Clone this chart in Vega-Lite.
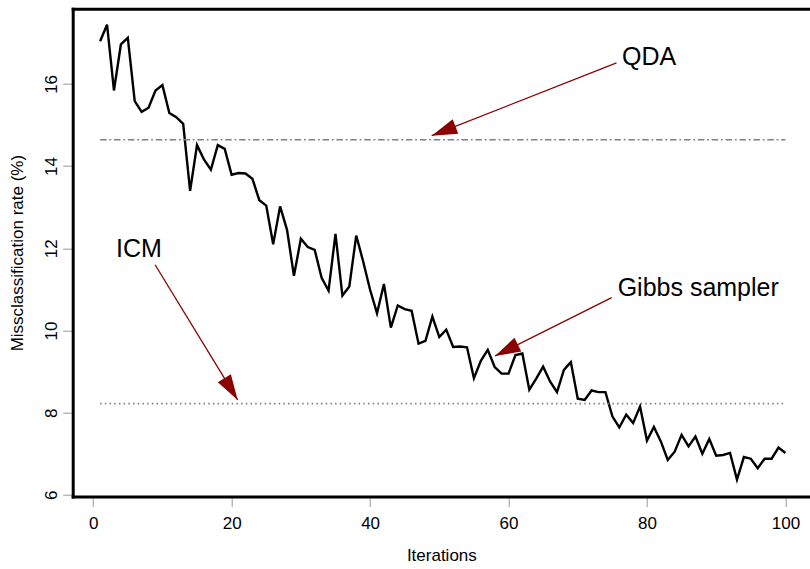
{
  "$schema": "https://vega.github.io/schema/vega-lite/v6.json",
  "width": 737.3,
  "height": 487.8,
  "autosize": {"type": "none"},
  "padding": {"left": 72.7, "top": 8.7, "right": 0, "bottom": 72.5},
  "background": "white",
  "config": {
    "view": {"stroke": null},
    "font": "Liberation Sans",
    "axis": {
      "grid": false,
      "domainColor": "black",
      "domainWidth": 3,
      "domainCap": "square",
      "tickColor": "#999999",
      "tickSize": 10,
      "tickWidth": 1,
      "labelFont": "Liberation Sans",
      "labelFontSize": 17,
      "labelColor": "black",
      "titleFont": "Liberation Sans",
      "titleFontSize": 17,
      "titleFontWeight": "normal",
      "titleColor": "black"
    }
  },
  "datasets": {
    "series": [
      {"x": 1, "y": 17.04}, {"x": 2, "y": 17.44}, {"x": 3, "y": 15.84}, {"x": 4, "y": 16.96}, {"x": 5, "y": 17.12},
      {"x": 6, "y": 15.58}, {"x": 7, "y": 15.32}, {"x": 8, "y": 15.42}, {"x": 9, "y": 15.84}, {"x": 10, "y": 15.97},
      {"x": 11, "y": 15.29}, {"x": 12, "y": 15.19}, {"x": 13, "y": 15.03}, {"x": 14, "y": 13.4}, {"x": 15, "y": 14.51},
      {"x": 16, "y": 14.16}, {"x": 17, "y": 13.91}, {"x": 18, "y": 14.51}, {"x": 19, "y": 14.42}, {"x": 20, "y": 13.79},
      {"x": 21, "y": 13.83}, {"x": 22, "y": 13.82}, {"x": 23, "y": 13.69}, {"x": 24, "y": 13.17}, {"x": 25, "y": 13.04},
      {"x": 26, "y": 12.1}, {"x": 27, "y": 13.02}, {"x": 28, "y": 12.45}, {"x": 29, "y": 11.33}, {"x": 30, "y": 12.23},
      {"x": 31, "y": 12.03}, {"x": 32, "y": 11.96}, {"x": 33, "y": 11.28}, {"x": 34, "y": 10.97}, {"x": 35, "y": 12.35},
      {"x": 36, "y": 10.85}, {"x": 37, "y": 11.07}, {"x": 38, "y": 12.31}, {"x": 39, "y": 11.68}, {"x": 40, "y": 10.99},
      {"x": 41, "y": 10.42}, {"x": 42, "y": 11.13}, {"x": 43, "y": 10.07}, {"x": 44, "y": 10.61}, {"x": 45, "y": 10.52},
      {"x": 46, "y": 10.48}, {"x": 47, "y": 9.68}, {"x": 48, "y": 9.75}, {"x": 49, "y": 10.34}, {"x": 50, "y": 9.84},
      {"x": 51, "y": 10.02}, {"x": 52, "y": 9.6}, {"x": 53, "y": 9.61}, {"x": 54, "y": 9.59}, {"x": 55, "y": 8.84},
      {"x": 56, "y": 9.26}, {"x": 57, "y": 9.53}, {"x": 58, "y": 9.11}, {"x": 59, "y": 8.95}, {"x": 60, "y": 8.95},
      {"x": 61, "y": 9.4}, {"x": 62, "y": 9.44}, {"x": 63, "y": 8.56}, {"x": 64, "y": 8.83}, {"x": 65, "y": 9.12},
      {"x": 66, "y": 8.76}, {"x": 67, "y": 8.5}, {"x": 68, "y": 9.04}, {"x": 69, "y": 9.23}, {"x": 70, "y": 8.34},
      {"x": 71, "y": 8.31}, {"x": 72, "y": 8.54}, {"x": 73, "y": 8.5}, {"x": 74, "y": 8.5}, {"x": 75, "y": 7.91},
      {"x": 76, "y": 7.64}, {"x": 77, "y": 7.95}, {"x": 78, "y": 7.75}, {"x": 79, "y": 8.15}, {"x": 80, "y": 7.32},
      {"x": 81, "y": 7.65}, {"x": 82, "y": 7.3}, {"x": 83, "y": 6.85}, {"x": 84, "y": 7.05}, {"x": 85, "y": 7.46},
      {"x": 86, "y": 7.18}, {"x": 87, "y": 7.42}, {"x": 88, "y": 7.0}, {"x": 89, "y": 7.36}, {"x": 90, "y": 6.95},
      {"x": 91, "y": 6.97}, {"x": 92, "y": 7.02}, {"x": 93, "y": 6.37}, {"x": 94, "y": 6.92}, {"x": 95, "y": 6.88},
      {"x": 96, "y": 6.65}, {"x": 97, "y": 6.88}, {"x": 98, "y": 6.88}, {"x": 99, "y": 7.15}, {"x": 100, "y": 7.02}
    ],
    "refs": [
      {"method": "QDA", "x": 1, "x2": 100, "y": 14.64},
      {"method": "ICM", "x": 1, "x2": 100, "y": 8.22}
    ],
    "notes": [
      {"label": "QDA", "x": 80.3, "y": 16.47, "ax": 75.6, "ay": 16.51, "hx": 48.9, "hy": 14.74},
      {"label": "Gibbs sampler", "x": 87.4, "y": 10.83, "ax": 74.9, "ay": 10.8, "hx": 58.05, "hy": 9.38},
      {"label": "ICM", "x": 6.62, "y": 11.8, "ax": 8.94, "ay": 11.6, "hx": 20.87, "hy": 8.31}
    ]
  },
  "layer": [
    {
      "data": {"name": "series"},
      "mark": {"type": "line", "color": "black", "strokeWidth": 2.4, "strokeJoin": "miter"},
      "encoding": {
        "x": {"field": "x", "type": "quantitative", "scale": {"domain": [-2.96, 103.55], "nice": false, "zero": false},
              "axis": {"orient": "bottom", "values": [0, 20, 40, 60, 80, 100], "title": "Iterations", "labelPadding": 9,
                       "titleBaseline": "alphabetic", "titleY": 64}},
        "y": {"field": "y", "type": "quantitative", "scale": {"domain": [5.96, 17.83], "nice": false, "zero": false},
              "axis": {"values": [6, 8, 10, 12, 14, 16], "title": "Missclassification rate (%)", "labelAngle": -90,
                       "labelAlign": "center", "labelBaseline": "alphabetic", "labelPadding": 6,
                       "titleBaseline": "alphabetic", "titleX": -50, "titleAngle": -90}}
      }
    },
    {
      "data": {"name": "refs"},
      "mark": {"type": "rule", "strokeWidth": 1.6, "color": "#808080"},
      "encoding": {
        "x": {"field": "x", "type": "quantitative", "scale": {"domain": [-2.96, 103.55], "nice": false, "zero": false},
              "axis": {"orient": "top", "labels": false, "ticks": false, "title": null, "domain": true}},
        "x2": {"field": "x2"},
        "y": {"field": "y", "type": "quantitative", "scale": {"domain": [5.96, 17.83], "nice": false, "zero": false}},
        "strokeDash": {"field": "method", "type": "nominal", "scale": {"domain": ["QDA", "ICM"], "range": [[6.5, 2.8, 1.8, 2.8], [1.5, 3.2]]}, "legend": null}
      }
    },
    {
      "data": {"name": "notes"},
      "mark": {"type": "rule", "color": "#8B0000", "strokeWidth": 1.3},
      "encoding": {
        "x": {"field": "ax", "type": "quantitative", "scale": {"domain": [-2.96, 103.55], "nice": false, "zero": false}, "axis": null},
        "y": {"field": "ay", "type": "quantitative", "scale": {"domain": [5.96, 17.83], "nice": false, "zero": false}},
        "x2": {"field": "hx"},
        "y2": {"field": "hy"}
      }
    },
    {
      "data": {"name": "notes"},
      "transform": [{"filter": "datum.label === 'QDA'"}],
      "mark": {"type": "point", "shape": "M0,0L0.3,1L-0.3,1Z", "filled": true, "color": "#8B0000", "opacity": 1, "size": 2600, "angle": 248.9},
      "encoding": {
        "x": {"field": "hx", "type": "quantitative", "scale": {"domain": [-2.96, 103.55], "nice": false, "zero": false}, "axis": null},
        "y": {"field": "hy", "type": "quantitative", "scale": {"domain": [5.96, 17.83], "nice": false, "zero": false}}
      }
    },
    {
      "data": {"name": "notes"},
      "transform": [{"filter": "datum.label === 'Gibbs sampler'"}],
      "mark": {"type": "point", "shape": "M0,0L0.3,1L-0.3,1Z", "filled": true, "color": "#8B0000", "opacity": 1, "size": 2600, "angle": 243.6},
      "encoding": {
        "x": {"field": "hx", "type": "quantitative", "scale": {"domain": [-2.96, 103.55], "nice": false, "zero": false}, "axis": null},
        "y": {"field": "hy", "type": "quantitative", "scale": {"domain": [5.96, 17.83], "nice": false, "zero": false}}
      }
    },
    {
      "data": {"name": "notes"},
      "transform": [{"filter": "datum.label === 'ICM'"}],
      "mark": {"type": "point", "shape": "M0,0L0.3,1L-0.3,1Z", "filled": true, "color": "#8B0000", "opacity": 1, "size": 2600, "angle": 148.5},
      "encoding": {
        "x": {"field": "hx", "type": "quantitative", "scale": {"domain": [-2.96, 103.55], "nice": false, "zero": false}, "axis": null},
        "y": {"field": "hy", "type": "quantitative", "scale": {"domain": [5.96, 17.83], "nice": false, "zero": false}}
      }
    },
    {
      "data": {"name": "notes"},
      "mark": {"type": "text", "font": "Liberation Sans", "fontSize": 25, "color": "black", "align": "center", "baseline": "alphabetic"},
      "encoding": {
        "x": {"field": "x", "type": "quantitative", "scale": {"domain": [-2.96, 103.55], "nice": false, "zero": false}, "axis": null},
        "y": {"field": "y", "type": "quantitative", "scale": {"domain": [5.96, 17.83], "nice": false, "zero": false}},
        "text": {"field": "label", "type": "nominal"}
      }
    }
  ],
  "resolve": {"axis": {"x": "independent"}}
}
